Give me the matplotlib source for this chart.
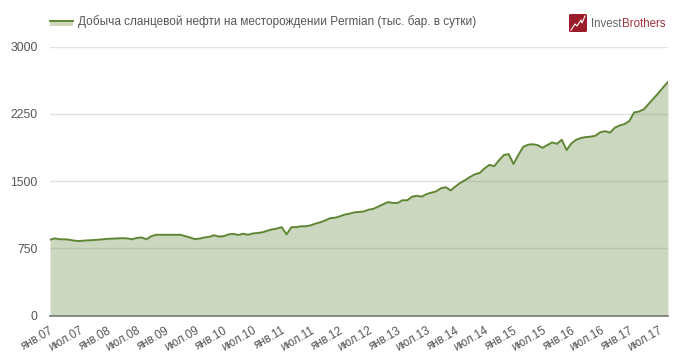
import matplotlib
matplotlib.use("Agg")
import matplotlib.pyplot as plt
from matplotlib.patches import FancyBboxPatch, Rectangle
from matplotlib.lines import Line2D

plt.rcParams['font.family'] = ['Liberation Sans', 'DejaVu Sans']

# monthly values, Jan 2007 onwards
y2007 = [845, 860, 850, 850, 845, 835, 830, 835, 838, 840, 845, 850]
y2008 = [855, 858, 860, 862, 860, 850, 865, 870, 850, 885, 900, 900]
y2009 = [900, 900, 900, 900, 885, 870, 852, 858, 870, 878, 895, 880]
y2010 = [885, 905, 910, 898, 912, 900, 915, 920, 928, 945, 960, 970]
y2011 = [985, 905, 985, 985, 995, 995, 1005, 1025, 1040, 1060, 1085, 1090]
y2012 = [1105, 1125, 1135, 1150, 1155, 1160, 1180, 1190, 1215, 1240, 1265, 1255]
y2013 = [1255, 1285, 1285, 1325, 1335, 1325, 1355, 1370, 1385, 1420, 1430, 1395]
y2014 = [1440, 1480, 1510, 1545, 1575, 1590, 1640, 1680, 1665, 1730, 1790, 1800]
y2015 = [1690, 1790, 1880, 1905, 1910, 1900, 1870, 1900, 1930, 1915, 1960, 1845]
y2016 = [1920, 1960, 1980, 1990, 1995, 2005, 2045, 2055, 2040, 2095, 2120, 2135]
y2017 = [2170, 2265, 2275, 2300, 2360, 2420, 2480, 2545, 2605]
values = y2007 + y2008 + y2009 + y2010 + y2011 + y2012 + y2013 + y2014 + y2015 + y2016 + y2017

tick_labels = ['янв.07', 'июл.07', 'янв.08', 'июл.08', 'янв.09', 'июл.09', 'янв.10', 'июл.10',
               'янв.11', 'июл.11', 'янв.12', 'июл.12', 'янв.13', 'июл.13', 'янв.14', 'июл.14',
               'янв.15', 'июл.15', 'янв.16', 'июл.16', 'янв.17', 'июл.17']
y_ticks = [0, 750, 1500, 2250, 3000]
legend_text = 'Добыча сланцевой нефти на месторождении Permian (тыс. бар. в сутки)'

line_color = '#5f8535'
text_color = '#555555'
W, H = 680, 359

fig = plt.figure(figsize=(W / 100, H / 100), dpi=100)
ax = fig.add_axes([50 / W, 1 - 315.5 / H, 618 / W, 269 / H])

months = range(len(values))
ax.fill_between(months, values, 0, color=line_color, alpha=0.32, linewidth=0, zorder=3)
ax.plot(months, values, color=line_color, linewidth=1.4, zorder=4)

ax.set_xlim(0, len(values) - 1)
ax.set_ylim(0, 3000)
ax.set_yticks(y_ticks)
ax.set_xticks(range(0, len(values), 6))
ax.set_xticklabels(tick_labels, rotation=30, ha='right', rotation_mode='anchor',
                   fontsize=8.4, color=text_color)
ax.tick_params(axis='y', length=0, pad=9, labelsize=8.8, labelcolor=text_color)
ax.tick_params(axis='x', length=0, pad=6.5)
ax.grid(axis='y', color='#e2e2e2', linewidth=1)
ax.set_axisbelow(True)
for s in ['top', 'right', 'left']:
    ax.spines[s].set_visible(False)
ax.spines['bottom'].set_color('#777777')
ax.spines['bottom'].set_linewidth(1.2)
ax.spines['bottom'].set_zorder(5)

# legend drawn by hand: line over a filled swatch
fig.add_artist(Rectangle((50 / W, 1 - 26 / H), 23 / W, 5 / H, transform=fig.transFigure,
                         facecolor='#cdd7bc', edgecolor='none'))
fig.add_artist(Line2D([50 / W, 73 / W], [1 - 20.5 / H, 1 - 20.5 / H], color=line_color, linewidth=1.4))
fig.text(78 / W, 1 - 21.5 / H, legend_text, fontsize=8.5, color=text_color, va='center')

# logo
fig.add_artist(FancyBboxPatch((569 / W, 1 - 32 / H), 18 / W, 18 / H, transform=fig.transFigure,
                              boxstyle='round,pad=0,rounding_size=0.003', facecolor='#9b1b2a',
                              edgecolor='none'))
fig.add_artist(Line2D([571 / W, 575 / W, 577 / W, 581 / W, 582 / W, 585 / W],
                      [1 - 30 / H, 1 - 24 / H, 1 - 26 / H, 1 - 20 / H, 1 - 23 / H, 1 - 16 / H],
                      color='white', linewidth=0.8))
t1 = fig.text(591 / W, 1 - 24 / H, 'Invest', fontsize=8.3, color='#666666', va='center')
fig.canvas.draw()
bb = t1.get_window_extent()
fig.text((bb.x1 + 0.3) / W, 1 - 24 / H, 'Brothers', fontsize=8.3, color='#a3303c', va='center')

fig.savefig('out.png', dpi=100)
